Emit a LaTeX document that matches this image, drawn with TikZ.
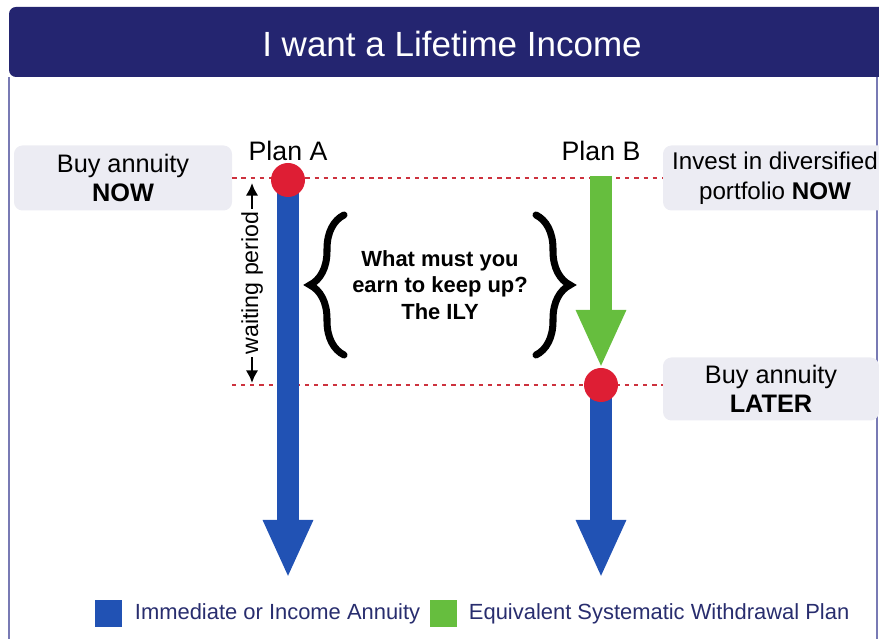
\documentclass[tikz,border=0pt]{standalone}
\usepackage{fontspec}
\setmainfont{Liberation Sans}
\usetikzlibrary{arrows.meta,decorations.pathreplacing}

\definecolor{titlenavy}{RGB}{36,37,112}
\definecolor{framegray}{RGB}{120,122,180}
\definecolor{boxgray}{RGB}{236,236,243}
\definecolor{annuityblue}{RGB}{33,82,180}
\definecolor{swpgreen}{RGB}{102,190,62}
\definecolor{dotred}{RGB}{222,30,52}
\definecolor{linered}{RGB}{205,50,62}
\definecolor{legendtext}{RGB}{40,45,110}

\begin{document}
\begin{tikzpicture}[
    infobox/.style={fill=boxgray,rounded corners=6pt,align=center,inner sep=0pt,
        font=\fontsize{18}{21}\selectfont},
    planlabel/.style={font=\fontsize{19}{22}\selectfont},
    reddot/.style={circle,fill=dotred,minimum size=0.85cm,inner sep=0pt},
    reddots/.style={linered,line width=2pt,dash pattern=on 3pt off 3.5pt},
    bigarrow/.style={line width=0.55cm,-{Triangle[width=1.15cm,length=1.45cm]}},
    curly/.style={line width=5pt,line cap=round,decorate,decoration={brace,amplitude=0.85cm}},
    legendbox/.style={minimum size=0.675cm,inner sep=0pt},
    legendlabel/.style={anchor=west,text=legendtext,font=\fontsize{15.6}{18}\selectfont}
  ]

    \useasboundingbox (0,0) rectangle (21.975,15.975);

    %%%%%%%%%%%%%%%%%%%%%%%%%%%%%%%%%%%%%%%%%%%%%%%%%%%%%%

    % frame and title bar
    \draw[framegray,line width=1pt] (0.225,-0.5) -- (0.225,14.05);
    \draw[framegray,line width=1pt] (21.925,-0.5) -- (21.925,14.05);
    \fill[titlenavy,rounded corners=5pt] (0.225,14.05) -- (0.225,15.8) -- (22.5,15.8) -- (22.5,14.05) -- cycle;
    \node[text=white,font=\fontsize{24.9}{28}\selectfont] (title) at (11.3,14.875) {I want a Lifetime Income};

    %%%%%%%%%%%%%%%%%%%%%%%%%%%%%%%%%%%%%%%%%%%%%%%%%%%%%%

    % side boxes
    \node[infobox,minimum width=5.45cm,minimum height=1.625cm] (nowbox) at (3.075,11.525) {Buy annuity\\\textbf{NOW}};
    \node[infobox,minimum width=5.6cm,minimum height=1.625cm,font=\fontsize{17.2}{21}\selectfont] (investbox) at (19.375,11.525) {Invest in diversified\\portfolio \textbf{NOW}};
    \node[infobox,minimum width=5.4cm,minimum height=1.575cm] (laterbox) at (19.275,6.25) {Buy annuity\\\textbf{LATER}};

    % plan labels
    \node[planlabel] (planA) at (7.2,12.2) {Plan A};
    \node[planlabel] (planB) at (15.025,12.2) {Plan B};

    %%%%%%%%%%%%%%%%%%%%%%%%%%%%%%%%%%%%%%%%%%%%%%%%%%%%%%

    % points in time
    \coordinate (buyA) at (7.2,11.475);
    \coordinate (buyB) at (15.025,6.35);
    \coordinate (waitstart) at (5.8,6.35);

    % dotted time lines
    \draw[reddots] (nowbox.east) -- (investbox.west);
    \draw[reddots] (waitstart) -- (buyB -| laterbox.west);

    %%%%%%%%%%%%%%%%%%%%%%%%%%%%%%%%%%%%%%%%%%%%%%%%%%%%%%

    % plan A: immediate annuity
    \coordinate (endA) at (7.2,1.525);
    \draw[bigarrow,annuityblue] (buyA) -- (endA);
    \node[reddot] (dotA) at (buyA) {};

    % plan B: withdrawals, then annuity
    \coordinate (startB) at (15.025,11.575);
    \coordinate (switchB) at (15.025,6.775);
    \coordinate (endB) at (15.025,1.525);
    \draw[bigarrow,swpgreen] (startB) -- (switchB);
    \draw[bigarrow,annuityblue] (buyB) -- (endB);
    \node[reddot] (dotB) at (buyB) {};

    %%%%%%%%%%%%%%%%%%%%%%%%%%%%%%%%%%%%%%%%%%%%%%%%%%%%%%

    % waiting period
    \coordinate (waittop) at (6.3,11.4);
    \coordinate (waitbot) at (6.3,6.4);
    \draw[line width=2pt,{Latex[length=9pt,width=9pt]}-{Latex[length=9pt,width=9pt]}] (waittop) -- (waitbot)
        node[midway,fill=white,inner sep=2pt,rotate=90,font=\fontsize{16.5}{18}\selectfont] (waitlabel) {waiting period};

    % braces and question
    \coordinate (lbot) at (8.6,7.1);
    \coordinate (ltop) at (8.6,10.6);
    \coordinate (rtop) at (13.4,10.6);
    \coordinate (rbot) at (13.4,7.1);
    \draw[curly] (lbot) -- (ltop);
    \draw[curly] (rtop) -- (rbot);
    \node[align=center,font=\bfseries\fontsize{15.6}{19}\selectfont] (question) at (11.0,8.85) {What must you\\earn to keep up?\\The ILY};

    %%%%%%%%%%%%%%%%%%%%%%%%%%%%%%%%%%%%%%%%%%%%%%%%%%%%%%

    % legend
    \node[legendbox,fill=annuityblue] (keyA) at (2.71,0.625) {};
    \node[legendlabel] (keyAtext) at (3.25,0.625) {Immediate or Income Annuity};
    \node[legendbox,fill=swpgreen] (keyB) at (11.09,0.625) {};
    \node[legendlabel] (keyBtext) at (11.6,0.625) {Equivalent Systematic Withdrawal Plan};

\end{tikzpicture}
\end{document}
